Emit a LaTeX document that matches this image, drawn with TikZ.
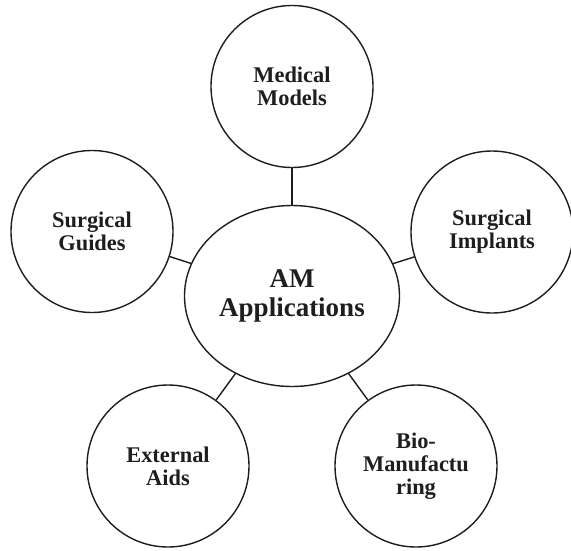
\documentclass[tikz,border=0pt]{standalone}
\usepackage{fontspec}
\setmainfont{Liberation Serif}
\usetikzlibrary{shapes.geometric}
\definecolor{ink}{HTML}{1E1E1E}
\begin{document}
\begin{tikzpicture}[x=1pt,y=-1pt,
  bubble/.style={circle,draw=ink,line width=1.4pt,minimum size=162pt,inner sep=0pt,
    align=center,text=ink,font=\bfseries\fontsize{22.4}{23}\selectfont},
  hub/.style={ellipse,draw=ink,line width=1.4pt,minimum width=215pt,minimum height=181pt,inner sep=0pt,
    align=center,text=ink,font=\bfseries\fontsize{27}{28.3}\selectfont},
  link/.style={draw=ink,line width=1.4pt}]
\useasboundingbox[fill=white] (0,0) rectangle (571,550);
\node[hub] (c) at (292,296) {AM\\Applications};
\node[bubble] (mm) at (292,86.5) {Medical\\Models};
\node[bubble] (sg) at (92,231.5) {Surgical\\Guides};
\node[bubble] (si) at (492,232) {Surgical\\Implants};
\node[bubble] (ea) at (168,466) {External\\Aids};
\node[bubble] (bm) at (416,466) {Bio-\\Manufactu\\ring};
\draw[link] (c) -- (mm);
\draw[link] (c) -- (sg);
\draw[link] (c) -- (si);
\draw[link] (c) -- (ea);
\draw[link] (c) -- (bm);
\end{tikzpicture}
\end{document}
